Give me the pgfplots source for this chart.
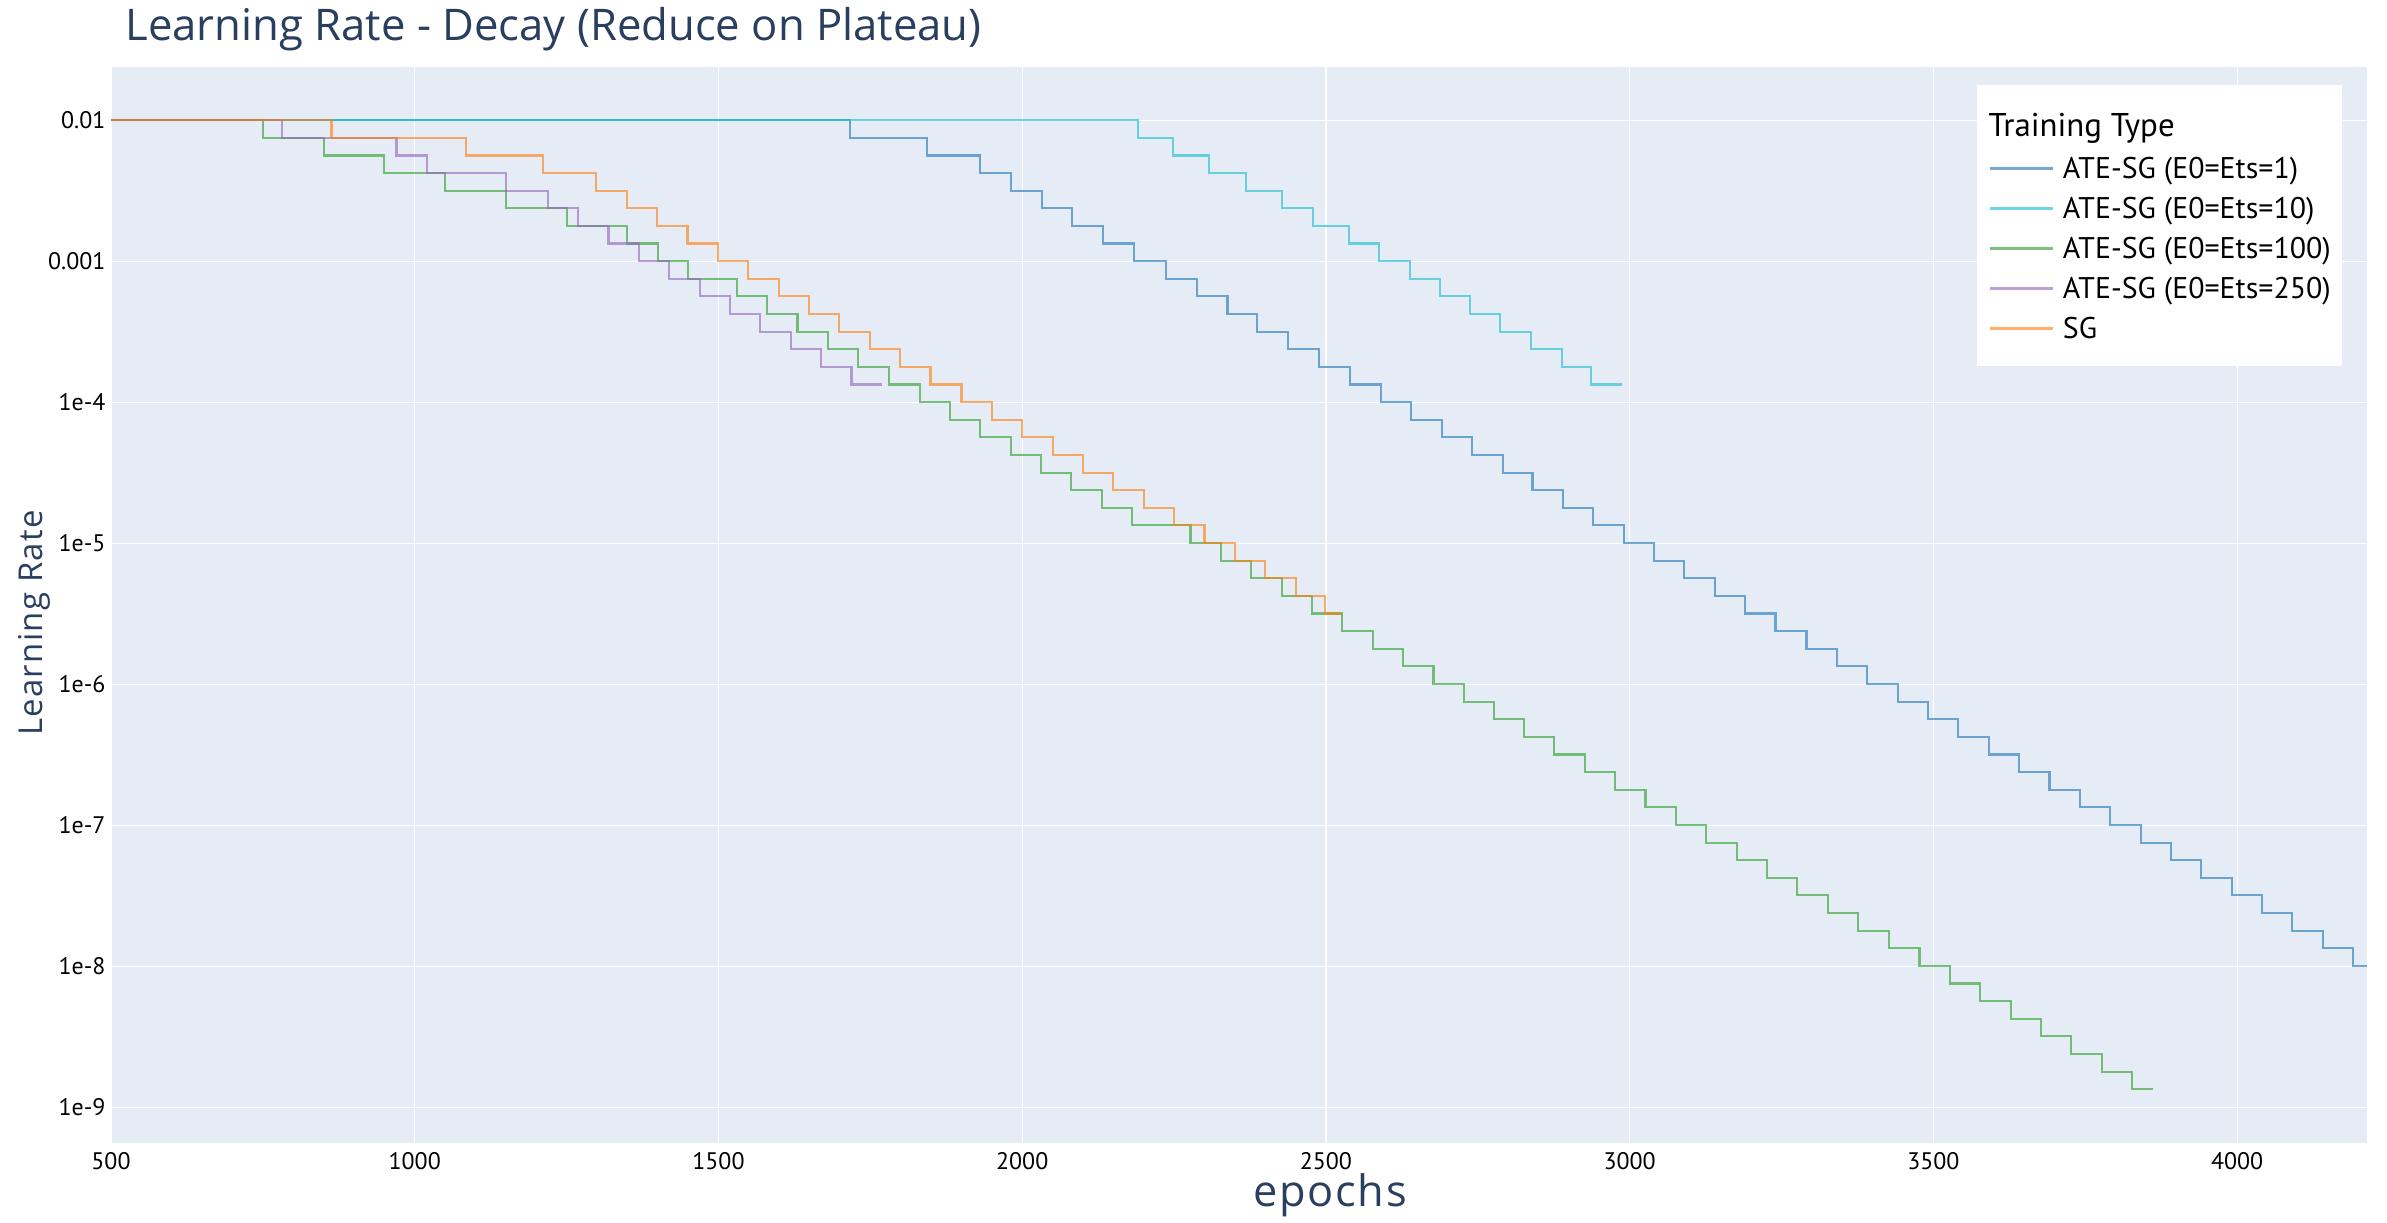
\documentclass[border=0pt]{standalone}
\usepackage{fontspec}
\setmainfont{PT Sans}
\newfontfamily\titlefont{Open Sans}
\newfontfamily\labelfont[LetterSpace=4]{Open Sans}
\usepackage{pgfplots}
\pgfplotsset{compat=1.18}
\definecolor{c1}{HTML}{1F77B4}
\definecolor{c2}{HTML}{17BECF}
\definecolor{c3}{HTML}{2CA02C}
\definecolor{c4}{HTML}{9467BD}
\definecolor{c5}{HTML}{FF7F0E}
\definecolor{plotbg}{HTML}{E5ECF6}
\definecolor{titlec}{HTML}{2A3F5F}
\begin{document}
\begin{tikzpicture}[x=0.33333bp,y=0.33333bp]
\path[use as bounding box] (0,0) rectangle (2387,1223);
\begin{axis}[
  at={(37bp,26.77bp)}, anchor=south west,
  scale only axis, width=752bp, height=358.67bp,
  xmin=500, xmax=4214,
  ymode=log, ymin=5.61e-10, ymax=0.024,
  axis background/.style={fill=plotbg},
  axis line style={draw=none},
  tick style={draw=none},
  major tick length=0pt,
  xtick={500,1000,1500,2000,2500,3000,3500,4000},
  xticklabels={500,1000,1500,2000,2500,3000,3500,4000},
  ytick={1e-9,1e-8,1e-7,1e-6,1e-5,1e-4,1e-3,1e-2},
  yticklabels={1e-9,1e-8,1e-7,1e-6,1e-5,1e-4,0.001,0.01},
  /pgf/number format/assume math mode=true,
  grid=major,
  major grid style={white, line width=0.4bp},
  tick label style={font=\fontsize{8}{9}\selectfont, text=black, inner sep=0pt},
  xticklabel style={anchor=north, yshift=-3bp},
  yticklabel style={anchor=east, xshift=-1.67bp},
  legend style={at={(0.8270,0.983)}, anchor=north west, fill=white, draw=none,
    outer sep=0pt, inner xsep=3.8bp, inner ysep=4.6bp, row sep=0pt, column sep=3bp,
    font=\fontsize{10}{12}\selectfont,
    nodes={inner sep=0pt, outer sep=0pt, text height=8.6bp, text depth=4.73bp},
    cells={anchor=base west}},
  legend image code/.code={\draw[#1, line width=0.9bp] (0bp,3.4bp) -- (21bp,3.4bp);},
]
\addlegendimage{empty legend}
\addlegendentry[text height=12.7bp, text depth=5.27bp]{\hspace*{-24.8bp}\fontsize{11}{13}\selectfont Training Type}

\addplot[const plot, draw=c1, draw opacity=0.62, line width=0.7bp] coordinates {
(500,1e-2) (1717,7.5e-3) (1843,5.625e-3) (1930,4.219e-3) (1981,3.164e-3) (2032,2.373e-3)
(2082,1.780e-3) (2133,1.335e-3) (2184,1.001e-3) (2237,7.508e-4) (2287,5.631e-4) (2338,4.224e-4)
(2387,3.168e-4) (2438,2.376e-4) (2488,1.782e-4) (2540,1.336e-4) (2590,1.002e-4) (2640,7.517e-5)
(2691,5.638e-5) (2741,4.228e-5) (2791,3.171e-5) (2840,2.378e-5) (2890,1.784e-5) (2940,1.338e-5)
(2990,1.003e-5) (3040,7.525e-6) (3090,5.644e-6) (3140,4.233e-6) (3190,3.175e-6) (3240,2.381e-6)
(3291,1.786e-6) (3341,1.339e-6) (3391,1.005e-6) (3441,7.534e-7) (3491,5.650e-7) (3541,4.238e-7)
(3591,3.178e-7) (3641,2.384e-7) (3691,1.788e-7) (3741,1.341e-7) (3791,1.006e-7) (3841,7.542e-8)
(3891,5.657e-8) (3941,4.243e-8) (3991,3.182e-8) (4041,2.386e-8) (4091,1.790e-8) (4141,1.342e-8)
(4191,1.007e-8) (4213,1.007e-8)};
\addlegendentry{ATE-SG (E0=Ets=1)}

\addplot[const plot, draw=c2, draw opacity=0.62, line width=0.7bp] coordinates {
(500,1e-2) (2190,7.5e-3) (2248,5.625e-3) (2308,4.219e-3) (2368,3.164e-3) (2428,2.373e-3)
(2479,1.780e-3) (2538,1.335e-3) (2588,1.001e-3) (2638,7.508e-4) (2687,5.631e-4) (2737,4.224e-4)
(2787,3.168e-4) (2837,2.376e-4) (2888,1.782e-4) (2937,1.336e-4) (2987,1.336e-4)};
\addlegendentry{ATE-SG (E0=Ets=10)}

\addplot[const plot, draw=c3, draw opacity=0.62, line width=0.7bp] coordinates {
(500,1e-2) (750,7.5e-3) (850,5.625e-3) (950,4.219e-3) (1050,3.164e-3) (1150,2.373e-3)
(1250,1.780e-3) (1350,1.335e-3) (1400,1.001e-3) (1450,7.508e-4) (1530,5.631e-4) (1580,4.224e-4)
(1630,3.168e-4) (1680,2.376e-4) (1730,1.782e-4) (1780,1.336e-4) (1831,1.002e-4) (1881,7.517e-5)
(1931,5.638e-5) (1981,4.228e-5) (2031,3.171e-5) (2081,2.378e-5) (2131,1.784e-5) (2181,1.338e-5)
(2277,1.003e-5) (2327,7.525e-6) (2377,5.644e-6) (2427,4.233e-6) (2477,3.175e-6) (2527,2.381e-6)
(2577,1.786e-6) (2627,1.339e-6) (2677,1.005e-6) (2727,7.534e-7) (2777,5.650e-7) (2826,4.238e-7)
(2876,3.178e-7) (2926,2.384e-7) (2976,1.788e-7) (3026,1.341e-7) (3076,1.006e-7) (3126,7.542e-8)
(3176,5.657e-8) (3226,4.243e-8) (3276,3.182e-8) (3327,2.386e-8) (3376,1.790e-8) (3427,1.342e-8)
(3477,1.007e-8) (3527,7.551e-9) (3577,5.663e-9) (3627,4.247e-9) (3677,3.186e-9) (3727,2.389e-9)
(3777,1.792e-9) (3827,1.344e-9) (3862,1.344e-9)};
\addlegendentry{ATE-SG (E0=Ets=100)}

\addplot[const plot, draw=c4, draw opacity=0.62, line width=0.7bp] coordinates {
(500,1e-2) (781,7.5e-3) (970,5.625e-3) (1020,4.219e-3) (1150,3.164e-3) (1220,2.373e-3)
(1269,1.780e-3) (1319,1.335e-3) (1369,1.001e-3) (1419,7.508e-4) (1469,5.631e-4) (1519,4.224e-4)
(1569,3.168e-4) (1619,2.376e-4) (1669,1.782e-4) (1719,1.336e-4) (1769,1.336e-4)};
\addlegendentry{ATE-SG (E0=Ets=250)}

\addplot[const plot, draw=c5, draw opacity=0.62, line width=0.7bp] coordinates {
(500,1e-2) (863,7.5e-3) (1085,5.625e-3) (1211,4.219e-3) (1298,3.164e-3) (1350,2.373e-3)
(1399,1.780e-3) (1449,1.335e-3) (1499,1.001e-3) (1549,7.508e-4) (1599,5.631e-4) (1649,4.224e-4)
(1699,3.168e-4) (1749,2.376e-4) (1799,1.782e-4) (1849,1.336e-4) (1900,1.002e-4) (1950,7.517e-5)
(2000,5.638e-5) (2050,4.228e-5) (2100,3.171e-5) (2150,2.378e-5) (2200,1.784e-5) (2250,1.338e-5)
(2300,1.003e-5) (2350,7.525e-6) (2400,5.644e-6) (2450,4.233e-6) (2499,3.175e-6) (2525,3.175e-6)};
\addlegendentry{SG}
\end{axis}
\node[anchor=base west, inner sep=0pt, text=titlec, font=\titlefont\fontsize{14.6}{16}\selectfont] at (125,1182.3) {Learning Rate - Decay (Reduce on Plateau)};
\node[anchor=base, inner sep=0pt, text=titlec, font=\labelfont\fontsize{14.5}{16}\selectfont] at (1330,16) {epochs};
\node[anchor=center, rotate=90, inner sep=0pt, text=titlec, font=\labelfont\fontsize{11}{13}\selectfont] at (34,600) {Learning Rate};
\end{tikzpicture}
\end{document}
